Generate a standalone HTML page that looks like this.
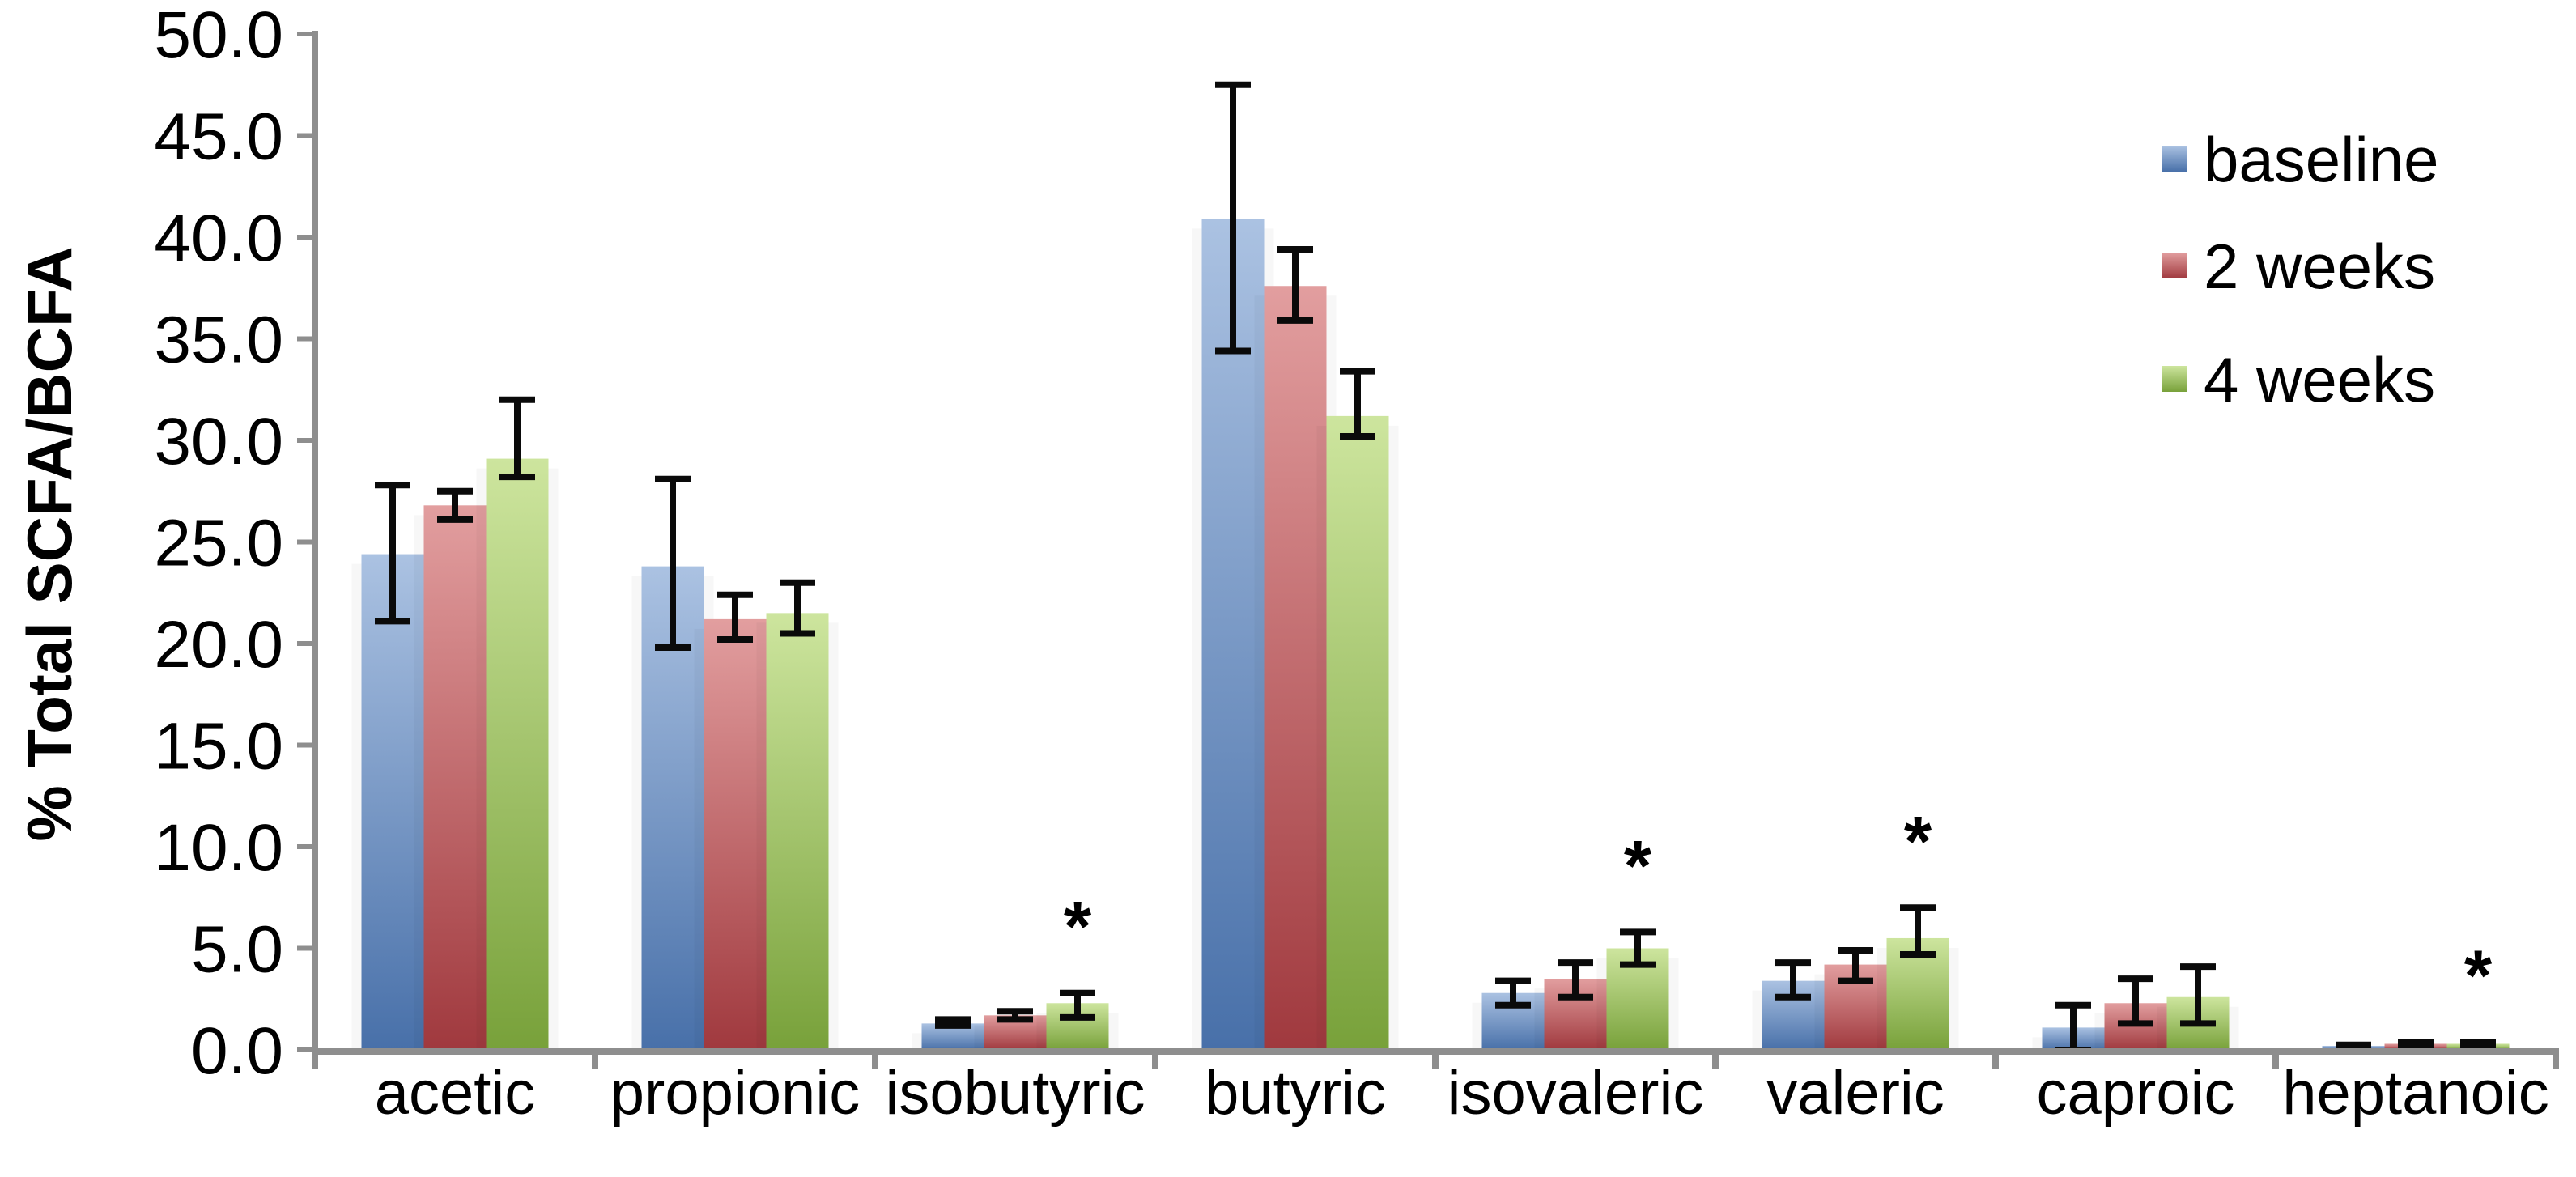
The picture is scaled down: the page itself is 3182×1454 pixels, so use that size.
<!DOCTYPE html>
<html><head><meta charset="utf-8"><style>
html,body{margin:0;padding:0;background:#fff;}
svg{display:block;font-family:"Liberation Sans",Arial,sans-serif;}
</style></head><body>
<svg id="chart" width="3182" height="1454" viewBox="0 0 3182 1454" xmlns="http://www.w3.org/2000/svg">
<defs>
<linearGradient id="gb" x1="0" y1="0" x2="0" y2="1"><stop offset="0" stop-color="#abc2e2"/><stop offset="1" stop-color="#4870a9"/></linearGradient>
<linearGradient id="gr" x1="0" y1="0" x2="0" y2="1"><stop offset="0" stop-color="#e29e9f"/><stop offset="1" stop-color="#a0393e"/></linearGradient>
<linearGradient id="gg" x1="0" y1="0" x2="0" y2="1"><stop offset="0" stop-color="#cde59e"/><stop offset="1" stop-color="#78a13a"/></linearGradient>
</defs>
<text transform="translate(88,672) rotate(-90)" text-anchor="middle" font-size="78" font-weight="bold" fill="#000">% Total  SCFA/BCFA</text>
<g id="marks"></g>
<g id="axes"></g>
<g>
<rect x="2670" y="180" width="32" height="32" fill="url(#gb)"/>
<text x="2722" y="224" font-size="78">baseline</text>
<rect x="2670" y="312" width="32" height="32" fill="url(#gr)"/>
<text x="2722" y="356" font-size="78">2 weeks</text>
<rect x="2670" y="452" width="32" height="32" fill="url(#gg)"/>
<text x="2722" y="496" font-size="78">4 weeks</text>
</g>
</svg>
<script>
const categories = ["acetic","propionic","isobutyric","butyric","isovaleric","valeric","caproic","heptanoic"];
const seriesNames = ["baseline","2 weeks","4 weeks"];
const baseline = [24.4,23.8,1.3,40.9,2.8,3.4,1.1,0.2];
const weeks2 = [26.8,21.2,1.7,37.6,3.5,4.2,2.3,0.3];
const weeks4 = [29.1,21.5,2.3,31.2,5.0,5.5,2.6,0.3];
const baselineLow = [21.1,19.8,1.2,34.4,2.2,2.6,0.0,0.15];
const baselineHigh = [27.8,28.1,1.5,47.5,3.4,4.3,2.2,0.25];
const weeks2Low = [26.1,20.2,1.5,35.9,2.6,3.4,1.3,0.2];
const weeks2High = [27.5,22.4,1.9,39.4,4.3,4.9,3.5,0.4];
const weeks4Low = [28.2,20.5,1.6,30.2,4.2,4.7,1.3,0.2];
const weeks4High = [32.0,23.0,2.8,33.4,5.8,7.0,4.1,0.4];
const significant = [false,false,true,false,true,true,false,true];
const yTicks = [0,5,10,15,20,25,30,35,40,45,50];

const NS="http://www.w3.org/2000/svg";
const X0=389, CW=346, Y0=1297, YT=42, YMAX=50, BW=77;
const y = v => Y0 - (v/YMAX)*(Y0-YT);
const xc = i => X0 + CW*i + CW/2;
function mk(tag, attrs, parent){const e=document.createElementNS(NS,tag);for(const k in attrs)e.setAttribute(k,attrs[k]);parent.appendChild(e);return e;}
const marks=document.getElementById('marks'), axes=document.getElementById('axes');
const vals=[baseline,weeks2,weeks4], lows=[baselineLow,weeks2Low,weeks4Low], highs=[baselineHigh,weeks2High,weeks4High];
const fills=["url(#gb)","url(#gr)","url(#gg)"];
categories.forEach((c,i)=>{
  for(let s=0;s<3;s++){
    const bx=xc(i)-1.5*BW+s*BW, v=vals[s][i];
    const sh=mk('rect',{x:bx-12,y:y(v)+12,width:BW+24,height:Y0-y(v)-8,fill:"#000",opacity:"0.03"},marks);
    
    
    const r=mk('rect',{x:bx,y:y(v),width:BW,height:Y0-y(v),fill:fills[s]},marks);
    
    
  }
});
categories.forEach((c,i)=>{
  for(let s=0;s<3;s++){
    const cx=xc(i)-BW+s*BW, lo=y(lows[s][i]), hi=y(highs[s][i]);
    const g=mk('g',{stroke:"#0a0a0a","stroke-width":8,fill:"none"},marks);
    
    
    mk('line',{x1:cx,y1:lo,x2:cx,y2:hi},g);
    mk('line',{x1:cx-22,y1:lo,x2:cx+22,y2:lo},g);
    mk('line',{x1:cx-22,y1:hi,x2:cx+22,y2:hi},g);
  }
  if(significant[i]){
    const t=mk('text',{x:xc(i)+BW,y:y(weeks4High[i])-52,"text-anchor":"middle","font-size":88,"font-weight":"bold",fill:"#000"},marks);
    t.textContent='*';
    
    
  }
});
const ya=mk('line',{x1:X0,y1:YT-4,x2:X0,y2:Y0+4,stroke:"#8e8e8e","stroke-width":8},axes);


yTicks.forEach(v=>{
  const tk=mk('line',{x1:X0-22,y1:y(v),x2:X0,y2:y(v),stroke:"#8e8e8e","stroke-width":6},axes);
  
  
  const t=mk('text',{x:350,y:y(v)+29,"text-anchor":"end","font-size":82,fill:"#000"},axes);
  t.textContent=v.toFixed(1);
  
  
});
const xa=mk('line',{x1:X0-4,y1:Y0+2,x2:X0+CW*categories.length+4,y2:Y0+2,stroke:"#8e8e8e","stroke-width":8},axes);


for(let i=0;i<=categories.length;i++){
  const tk=mk('line',{x1:X0+CW*i,y1:Y0,x2:X0+CW*i,y2:Y0+24,stroke:"#8e8e8e","stroke-width":8},axes);
  
  
}
categories.forEach((c,i)=>{
  const t=mk('text',{x:xc(i),y:1376,"text-anchor":"middle","font-size":76,fill:"#000"},axes);
  t.textContent=c;
  
  
});
</script>
</body></html>
